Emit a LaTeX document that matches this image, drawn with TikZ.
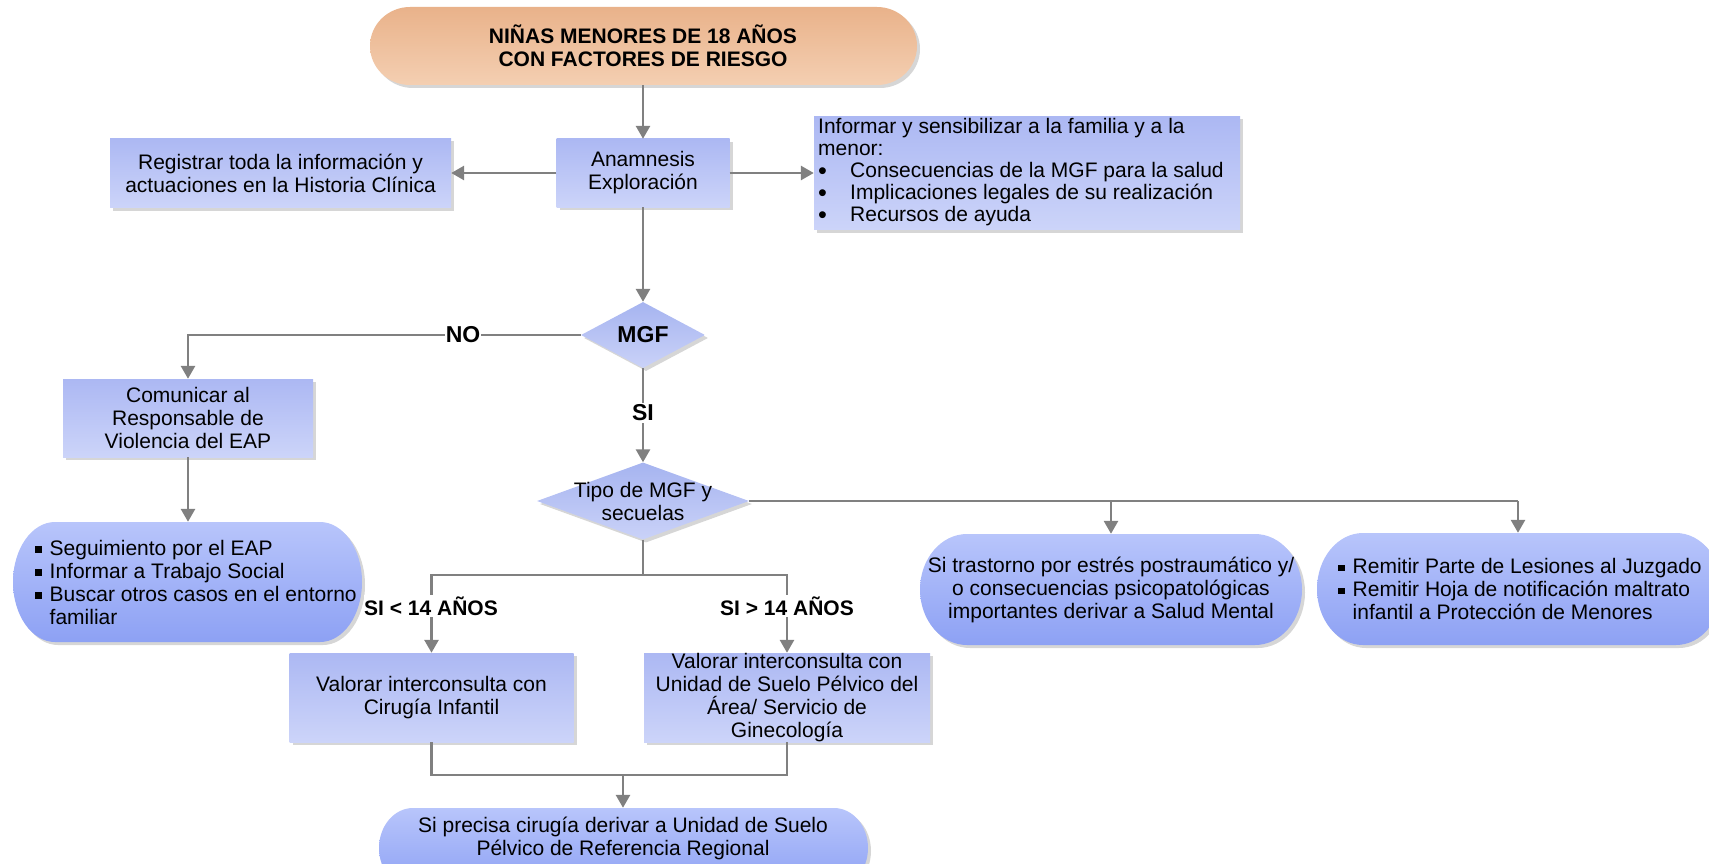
\documentclass[tikz,border=0pt]{standalone}
\usepackage{fontspec}
\setmainfont{Liberation Sans}
\usetikzlibrary{arrows.meta,shapes.geometric,shadows,calc}
\definecolor{linegray}{RGB}{128,128,128}
\definecolor{boxtop}{RGB}{172,184,243}
\definecolor{boxbot}{RGB}{204,212,249}
\definecolor{termtop}{RGB}{184,197,251}
\definecolor{termbot}{RGB}{141,161,244}
\definecolor{diatop}{RGB}{166,180,240}
\definecolor{diabot}{RGB}{202,210,248}
\definecolor{orangetop}{RGB}{233,178,138}
\definecolor{orangebot}{RGB}{244,207,178}
\definecolor{shadowc}{RGB}{214,214,214}
\newcommand{\termshape}[6]{%
  \path[#6] (#1+#5,-#2) -- (#3-#5,-#2)
    arc[start angle=90,end angle=-90,x radius=#5,y radius={(#4-#2)/2}]
    -- (#1+#5,-#4)
    arc[start angle=270,end angle=90,x radius=#5,y radius={(#4-#2)/2}] -- cycle;}
\newcommand{\sqb}{\makebox[14.5pt][l]{\raisebox{2.5pt}{\rule{6.5pt}{6.5pt}}}}
\newcommand{\rdb}{\makebox[32pt][l]{\raisebox{-2.5pt}[0pt][0pt]{\scalebox{1.2}{•}}}}
\begin{document}
\begin{tikzpicture}[x=1pt,y=1pt,
  font=\fontsize{21}{23}\selectfont,
  shad/.style={drop shadow={shadow xshift=3pt,shadow yshift=-3pt,fill=shadowc,opacity=1}},
  box/.style={rectangle,inner sep=0pt,top color=boxtop,bottom color=boxbot,shad,align=center},
  dia/.style={diamond,inner sep=0pt,top color=diatop,bottom color=diabot,shad},
  termfill/.style={top color=termtop,bottom color=termbot,shad},
  orfill/.style={top color=orangetop,bottom color=orangebot,shad},
  hold/.style={rectangle,inner sep=0pt,align=center},
  txt/.style={inner sep=0pt,align=left},
  conn/.style={draw=linegray,line width=2.8pt},
  arr/.style={conn,-{Triangle[length=13pt,width=14pt]}},
  lbl/.style={fill=white,inner xsep=1pt,inner ysep=2pt,font=\fontsize{23}{25}\selectfont\bfseries},
  lblsm/.style={fill=white,inner xsep=0pt,inner ysep=2pt,font=\fontsize{21}{23}\selectfont\bfseries}]
\useasboundingbox (0,0) rectangle (1709,-864);
\clip (0,0) rectangle (1709,-864);

% terminal shapes
\termshape{370}{7}{917}{85}{40}{orfill}
\termshape{13}{522}{362}{642}{42}{termfill}
\termshape{920}{534}{1302}{645}{47}{termfill}
\termshape{1317}{533}{1722}{645}{46}{termfill}
\termshape{379}{808}{868}{888}{34}{termfill}

% nodes
\node[hold,minimum width=547pt,minimum height=78pt] (top) at (643,-46)
  {\bfseries NIÑAS MENORES DE 18 AÑOS\\\bfseries CON FACTORES DE RIESGO};
\node[box,minimum width=173pt,minimum height=68pt] (ana) at (643,-173) {Anamnesis\\Exploración};
\node[box,minimum width=341pt,minimum height=69pt] (reg) at (280.5,-173)
  {Registrar toda la información y\\actuaciones en la Historia Clínica};
\node[box,minimum width=426pt,minimum height=113pt] (inf) at (1027,-173) {};
\node[txt,anchor=west,font=\fontsize{21}{22}\selectfont] (inftxt) at (818,-172)
  {Informar y sensibilizar a la familia y a la\\
   menor:\\
   \rdb Consecuencias de la MGF para la salud\\
   \rdb Implicaciones legales de su realización\\
   \rdb Recursos de ayuda};
\node[dia,minimum width=124pt,minimum height=66pt] (mgf) at (643,-335) {};
\node[inner sep=0pt,font=\fontsize{23}{25}\selectfont\bfseries] (mgftxt) at (643,-335) {MGF};
\node[box,minimum width=250pt,minimum height=78pt] (com) at (188,-418)
  {Comunicar al\\Responsable de\\Violencia del EAP};
\node[hold,minimum width=349pt,minimum height=120pt] (seg) at (187.5,-582) {};
\node[txt,anchor=west] (segtxt) at (35,-582)
  {\sqb Seguimiento por el EAP\\
   \sqb Informar a Trabajo Social\\
   \sqb Buscar otros casos en el entorno\\
   \hspace*{14.5pt}familiar};
\node[dia,minimum width=212pt,minimum height=77pt] (tipo) at (643,-501) {};
\node[hold] (tipotxt) at (643,-501) {Tipo de MGF y\\secuelas};
\node[box,minimum width=284pt,minimum height=89pt] (val1) at (431.5,-697.5)
  {Valorar interconsulta con\\Cirugía Infantil};
\node[box,minimum width=286pt,minimum height=89pt] (val2) at (787,-697.5)
  {Valorar interconsulta con\\Unidad de Suelo Pélvico del\\Área/ Servicio de\\Ginecología};
\node[hold,minimum width=382pt,minimum height=111pt] (sal) at (1111,-589.5)
  {Si trastorno por estrés postraumático y/\\o consecuencias psicopatológicas\\importantes derivar a Salud Mental};
\node[hold,minimum width=405pt,minimum height=112pt] (rem) at (1519.5,-589) {};
\node[txt,anchor=west] (remtxt) at (1338,-589)
  {\sqb Remitir Parte de Lesiones al Juzgado\\
   \sqb Remitir Hoja de notificación maltrato\\
   \hspace*{14.5pt}infantil a Protección de Menores};
\node[hold,minimum width=489pt,minimum height=80pt] (fin) at (623.5,-848) {};
\node[hold,font=\fontsize{21}{23}\selectfont] (fintxt) at (623,-838)
  {Si precisa cirugía derivar a Unidad de Suelo\\Pélvico de Referencia Regional};

% connectors
\draw[arr] (top.south) -- (ana.north);
\draw[arr] (ana.west) -- (reg.east);
\draw[arr] (ana.east) -- (inf.west);
\draw[arr] (ana.south) -- (mgf.north);
\draw[arr] (mgf.west) -- (com.north |- mgf.west) -- (com.north);
\node[lbl] (no) at (463,-335) {NO};
\draw[arr] (com.south) -- (com.south |- seg.north);
\draw[arr] (mgf.south) -- (tipo.north);
\node[lbl] (si) at (643,-413) {SI};
\coordinate (j1) at (643,-575);
\draw[conn] (tipo.south) -- (j1);
\draw[arr] (j1) -| (val1.north);
\draw[arr] (j1) -| (val2.north);
\node[lblsm] (lt) at (431,-606) {SI < 14 AÑOS};
\node[lblsm] (gt) at (787,-606) {SI > 14 AÑOS};
\coordinate (j2) at (1518,-501);
\coordinate (j3) at (1111,-501);
\draw[conn] (tipo.east) -- (j2);
\draw[arr] (j2) -- (j2 |- rem.north);
\draw[arr] (j3) -- (sal.north);
\coordinate (j4) at (623,-775);
\draw[conn] (val1.south) -- (val1.south |- j4) -- (val2.south |- j4) -- (val2.south);
\draw[arr] (j4) -- (j4 |- fin.north);
\end{tikzpicture}
\end{document}
